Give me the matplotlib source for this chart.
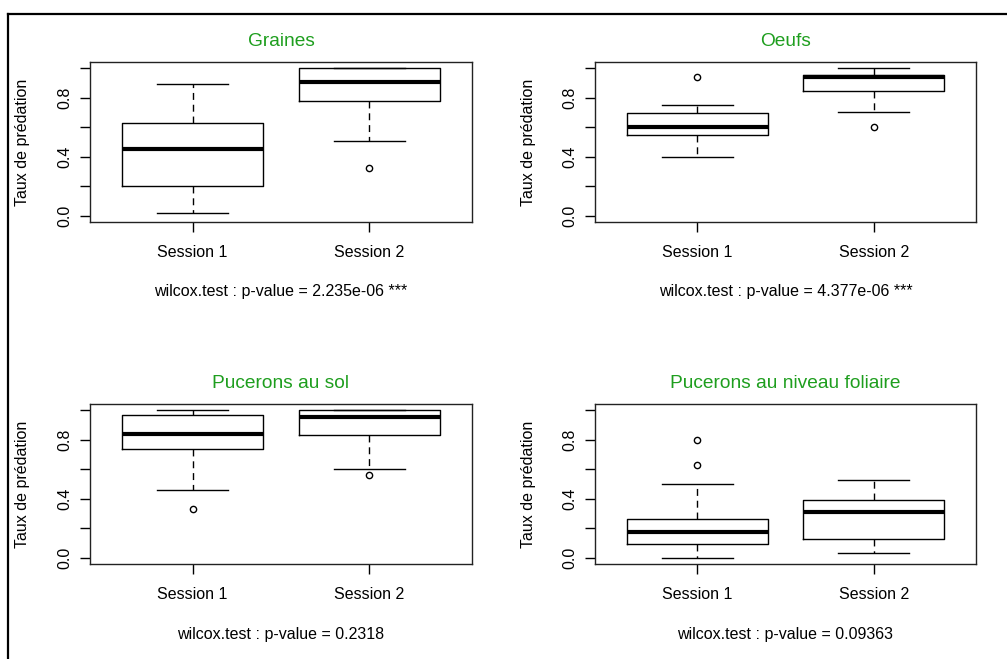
import matplotlib
matplotlib.use("Agg")
import matplotlib.pyplot as plt
from matplotlib.lines import Line2D

plt.rcParams['font.family'] = ['Liberation Sans', 'DejaVu Sans']

# ---- data ----
titles = ["Graines", "Oeufs", "Pucerons au sol", "Pucerons au niveau foliaire"]
sessions = ["Session 1", "Session 2"]
pvalues = ["wilcox.test : p-value = 2.235e-06 ***",
           "wilcox.test : p-value = 4.377e-06 ***",
           "wilcox.test : p-value = 0.2318",
           "wilcox.test : p-value = 0.09363"]
whislo = [[0.02, 0.51], [0.40, 0.70], [0.46, 0.60], [0.00, 0.036]]
q1 = [[0.20, 0.778], [0.55, 0.842], [0.733, 0.831], [0.094, 0.128]]
med = [[0.45, 0.907], [0.60, 0.94], [0.84, 0.951], [0.178, 0.312]]
q3 = [[0.631, 1.0], [0.697, 0.949], [0.964, 1.0], [0.261, 0.393]]
whishi = [[0.89, 1.0], [0.75, 1.0], [1.0, 1.0], [0.50, 0.53]]
fliers = [[[], [0.325]], [[0.94], [0.60]], [[0.328], [0.562]], [[0.80, 0.629], []]]
yticks = [0.0, 0.2, 0.4, 0.6, 0.8, 1.0]
yticklabels = ["0.0", "", "0.4", "", "0.8", ""]

W, H = 1007, 659
fig = plt.figure(figsize=(W / 100, H / 100), dpi=100)
fig.patch.set_facecolor("white")

# axes boxes in pixels: (left, top, right, bottom)
boxes = [(90, 62, 472, 222), (595, 62, 976, 222),
         (90, 404, 472, 564), (595, 404, 976, 564)]

green = "#1E9E1E"
fs = 11.5

for i, (l, t, r, b) in enumerate(boxes):
    ax = fig.add_axes([l / W, 1 - b / H, (r - l) / W, (b - t) / H])
    stats = []
    for j in range(2):
        stats.append(dict(med=med[i][j], q1=q1[i][j], q3=q3[i][j],
                          whislo=whislo[i][j], whishi=whishi[i][j],
                          fliers=fliers[i][j], label=sessions[j]))
    ax.bxp(stats, positions=[1, 2], widths=0.8, capwidths=0.4,
           boxprops=dict(color="black", linewidth=1.0),
           medianprops=dict(color="black", linewidth=3.0, solid_capstyle="butt"),
           whiskerprops=dict(color="black", linewidth=1.0, linestyle=(0, (5, 3.5))),
           capprops=dict(color="black", linewidth=1.0),
           flierprops=dict(marker="o", markerfacecolor="none",
                           markeredgecolor="black", markersize=4.5,
                           markeredgewidth=1.0))
    ax.set_xlim(0.42, 2.58)
    ax.set_ylim(-0.04, 1.04)
    ax.set_yticks(yticks)
    ax.set_yticklabels(yticklabels, rotation=90, va="center", fontsize=fs)
    ax.set_xticks([1, 2])
    ax.set_xticklabels(sessions, fontsize=fs)
    ax.tick_params(axis="both", direction="out", length=7.2, width=1.0,
                   colors="black")
    ax.tick_params(axis="y", pad=5.5)
    ax.tick_params(axis="x", pad=9.5)
    for sp in ax.spines.values():
        sp.set_linewidth(1.0)
        sp.set_color("#222222")

    cx = (l + r) / 2
    fig.text(cx / W, 1 - (t - 20.5) / H, titles[i], ha="center", va="center",
             color=green, fontsize=fs * 1.2)
    fig.text(cx / W, 1 - (b + 70) / H, pvalues[i], ha="center", va="center",
             color="black", fontsize=fs)
    fig.text((l - 67) / W, 1 - ((t + b) / 2) / H, "Taux de prédation",
             ha="center", va="center", rotation=90, color="black", fontsize=fs)

# outer frame (top and left edges)
fig.add_artist(Line2D([7.5 / W, 1.0], [1 - 14 / H, 1 - 14 / H],
                      transform=fig.transFigure, color="black", linewidth=1.6))
fig.add_artist(Line2D([7.5 / W, 7.5 / W], [1 - 14 / H, 0.0],
                      transform=fig.transFigure, color="black", linewidth=1.6))

fig.savefig("out.png", dpi=100)
